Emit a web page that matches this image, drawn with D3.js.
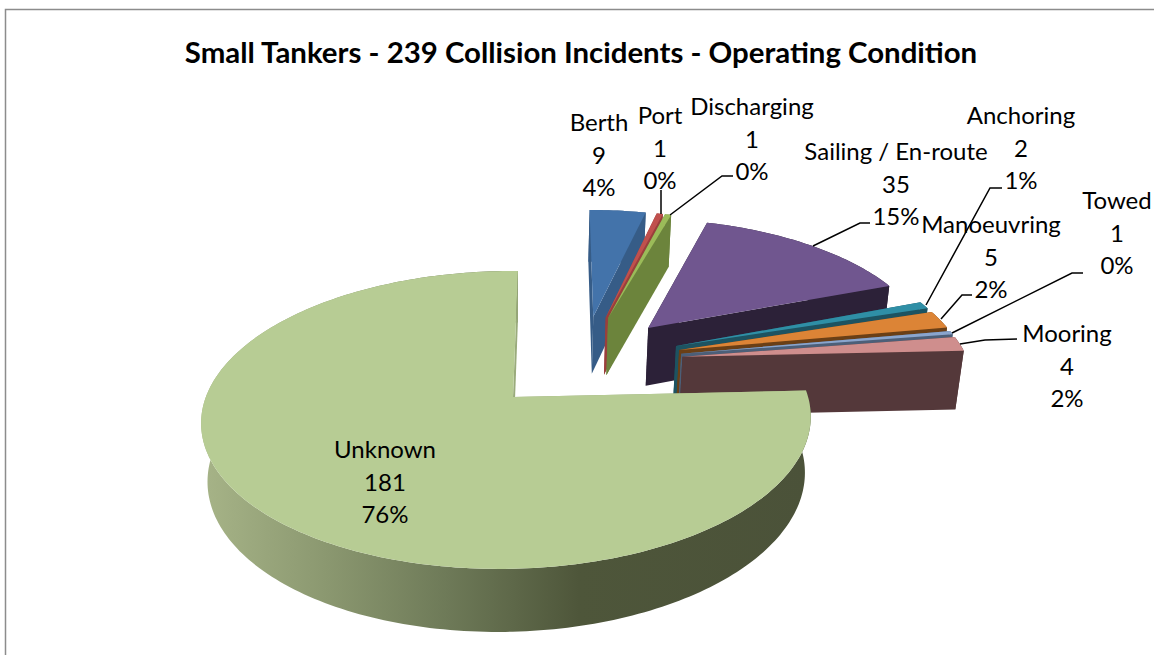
<!DOCTYPE html>
<html><head><meta charset="utf-8">
<script src="https://cdn.jsdelivr.net/npm/d3@7"></script>
<style>html,body{margin:0;padding:0;background:#fff}svg{display:block}</style>
</head><body><svg id="c" width="1154" height="655"></svg>
<script>
const chartTitle = "Small Tankers - 239 Collision Incidents - Operating Condition";
const categories = ["Berth","Port","Discharging","Sailing / En-route","Anchoring","Manoeuvring","Towed","Mooring","Unknown"];
const values = [9,1,1,35,2,5,1,4,181];
const percents = ["4%","0%","0%","15%","1%","2%","0%","2%","76%"];
const topColors = ["#4373aa","#c0504d","#9bbb59","#70568f","#2f8fa6","#dc8436","#8aa5cd","#cf8e8d","#b7cc94"];
const wallColors = ["#365c87","#9a3f3c","#6c843c","#2c2138","#1d5361","#6a3f16","#4c5f78","#54383a","#9aab7c"];
// label layout: centre x, baseline of first line
const labelX = [599,660,752,896,1021,991,1117,1067,385];
const labelY = [131,124,115,160,124,233,209,342,458];
const leaders = [null,[[661,190],[661,214]],[[733,176],[722,176],[670,215]],[[870,223],[860,223],[813,246]],
  [[1002,188],[990,188],[926,305]],[[972,295],[962,295],[941,319]],[[1083,273],[1072,273],[952,333]],[[1017,339],[985,340],[960,344]],null];

const svg = d3.select("#c");
svg.append("rect").attr("x",5.5).attr("y",9.5).attr("width",1200).attr("height",700).attr("fill","#fff").attr("stroke","#8c8c8c").attr("stroke-width",1.5);

// 3D projection of the pie plane; the large slice has a slightly different fit
const ax=513, ay=397, B=145.4, K=0.154, M=0.02, EXPL=0.352;
const fitSmall={X:-1.5,A:297,S:-8,KX:0,H:62}, fitLarge={X:0,A:301,S:-5.7,KX:0.02,H:58};
function proj(u,v,z,f){ const w=1-K*v+f.KX*u+M*z; return [ax+f.X+(f.A*u+f.S*v)/w, ay+(B*v+f.H*z)/w]; }

const pie = d3.pie().sort(null).value(d=>d);
const arcs = pie(values);
const centerU = -EXPL*Math.sin((arcs[8].startAngle+arcs[8].endAngle)/2);
const centerV =  EXPL*Math.cos((arcs[8].startAngle+arcs[8].endAngle)/2);

const defs = svg.append("defs");
const g = defs.append("linearGradient").attr("id","rim").attr("gradientUnits","userSpaceOnUse")
  .attr("x1",205).attr("x2",808).attr("y1",0).attr("y2",0);
[[0,"#a6b387"],[0.2,"#8b9870"],[0.4,"#6e7a58"],[0.62,"#4e563a"],[1,"#4b5239"]].forEach(s=>g.append("stop").attr("offset",s[0]).attr("stop-color",s[1]));

const line = d3.line();
const root = svg.append("g");
arcs.forEach((a,i)=>{
  const f = i===8 ? fitLarge : fitSmall;
  const mid=(a.startAngle+a.endAngle)/2;
  const ou=centerU+EXPL*Math.sin(mid), ov=centerV-EXPL*Math.cos(mid);
  const n=Math.max(4,Math.ceil((a.endAngle-a.startAngle)/0.02));
  const angs=d3.range(n+1).map(k=>a.startAngle+(a.endAngle-a.startAngle)*k/n);
  const pt=(t,z)=>proj(ou+Math.sin(t),ov-Math.cos(t),z,f);
  const apex=z=>proj(ou,ov,z,f);
  const grp=root.append("g").attr("class","slice");
  const wallFill=wallColors[i];
  // outer rim wall
  const rim=angs.map(t=>pt(t,0)).concat(angs.slice().reverse().map(t=>pt(t,1)));
  grp.append("path").attr("d",line(rim)+"Z").attr("fill",i===8?"url(#rim)":wallFill);
  // radial walls
  const wallA=[apex(0),pt(a.startAngle,0),pt(a.startAngle,1),apex(1)];
  const wallB=[apex(0),pt(a.endAngle,0),pt(a.endAngle,1),apex(1)];
  grp.append("path").attr("d",line(wallA)+"Z").attr("fill",wallFill);
  grp.append("path").attr("d",line(wallB)+"Z").attr("fill",wallFill);
  // top face
  const top=[apex(0)].concat(angs.map(t=>pt(t,0)));
  grp.append("path").attr("d",line(top)+"Z").attr("fill",topColors[i]);
});

// leader lines
leaders.forEach(l=>{ if(l) svg.append("path").attr("d",line(l)).attr("fill","none").attr("stroke","#000").attr("stroke-width",1.5); });

// text
svg.append("text").attr("x",581).attr("y",63).attr("text-anchor","middle")
  .attr("font-family","Lato, 'Open Sans', sans-serif").attr("font-weight",700).attr("font-size",29.4).attr("fill","#000").text(chartTitle);
categories.forEach((n,i)=>{
  [n,String(values[i]),percents[i]].forEach((t,k)=>{
    svg.append("text").attr("x",labelX[i]).attr("y",labelY[i]+k*32.5).attr("text-anchor","middle")
      .attr("font-family","Lato, 'Open Sans', sans-serif").attr("font-size",24).attr("fill","#000").text(t);
  });
});
</script></body></html>
